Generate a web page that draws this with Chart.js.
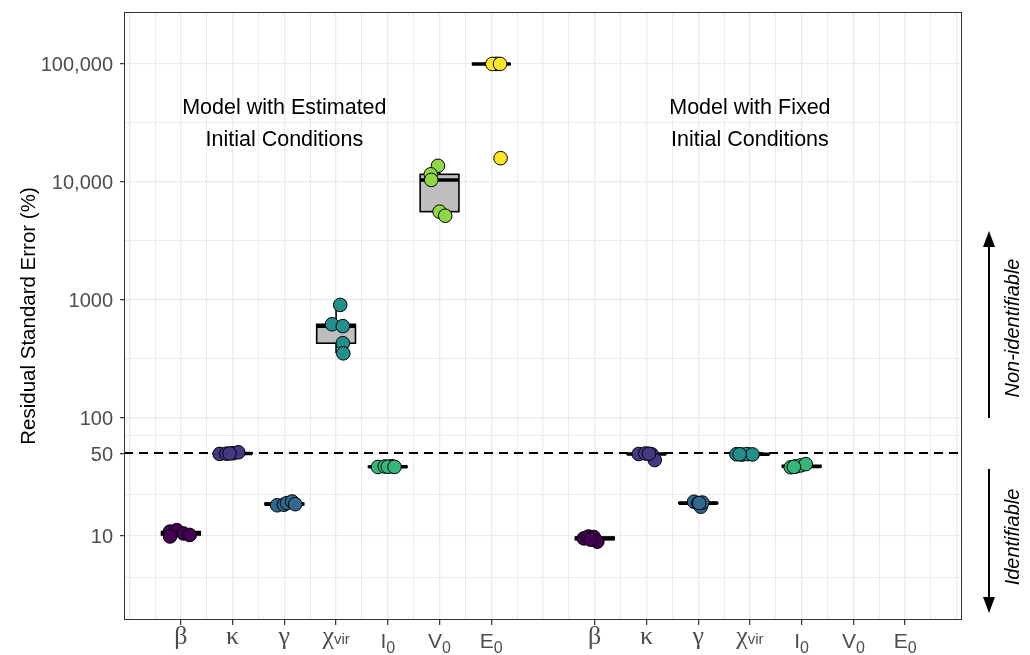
<!DOCTYPE html>
<html>
<head>
<meta charset="utf-8">
<script src="https://cdn.jsdelivr.net/npm/chart.js@4"></script>
<style>
  html, body { margin: 0; padding: 0; background: #ffffff; }
  canvas { display: block; }
</style>
</head>
<body>
<canvas id="rse" width="1030" height="655"></canvas>
<script>
// ---- Parameters and axis labels ----
const paramNames = ['β', 'κ', 'γ', 'χvir', 'I0', 'V0', 'E0'];
const tickMain = ['β', 'κ', 'γ', 'χ', 'I', 'V', 'E'];
const tickSub = ['', '', '', 'vir', '0', '0', '0'];
const tickGreek = [true, true, true, true, false, false, false];
const estPositions = [1, 2, 3, 4, 5, 6, 7];
const fixPositions = [9, 10, 11, 12, 13, 14, 15];
const paramColors = ['#440154', '#443A83', '#31688E', '#21908C', '#35B779', '#8FD744', '#FDE725'];

const yTickValues = [10, 50, 100, 1000, 10000, 100000];
const yTickLabels = ['10', '50', '100', '1000', '10,000', '100,000'];
const thresholdRSE = 50;

// ---- RSE (%) and horizontal jitter, model with estimated initial conditions ----
const estBeta = [10.9, 11.2, 10.5, 10.2, 9.9];
const estBetaJit = [-0.21, -0.08, 0.05, 0.17, -0.21];
const estKappa = [49.6, 49.8, 50.3, 51.2, 50.0];
const estKappaJit = [-0.25, -0.12, 0.01, 0.11, -0.06];
const estGamma = [18.2, 18.4, 19.0, 19.6, 18.6];
const estGammaJit = [-0.14, -0.01, 0.05, 0.15, 0.21];
const estChi = [908, 622, 600, 430, 353];
const estChiJit = [0.08, -0.08, 0.13, 0.13, 0.14];
const estI0 = [38.4, 38.8, 39.0, 38.6, 38.5];
const estI0Jit = [-0.19, -0.06, 0.07, 0.0, 0.13];
const estV0 = [13700, 11600, 10400, 5600, 5170];
const estV0Jit = [-0.03, -0.17, -0.16, 0.0, 0.11];
const estE0 = [100000, 100000, 100000, 100000, 15900];
const estE0Jit = [0.08, 0.12, 0.02, 0.17, 0.18];

// ---- RSE (%) and horizontal jitter, model with fixed initial conditions ----
const fixBeta = [9.55, 9.9, 9.8, 8.95, 9.3];
const fixBetaJit = [-0.21, -0.12, -0.02, 0.05, -0.08];
const fixKappa = [49.5, 50.0, 49.2, 44.0, 49.8];
const fixKappaJit = [-0.15, -0.02, 0.10, 0.16, 0.05];
const fixGamma = [19.5, 18.9, 17.7, 19.2, 19.0];
const fixGammaJit = [-0.08, 0.0, 0.05, 0.08, 0.02];
const fixChi = [49.3, 49.0, 49.4, 49.1, 49.2];
const fixChiJit = [-0.26, -0.15, -0.05, 0.05, -0.2];
const fixI0 = [38.2, 38.8, 39.6, 40.6, 38.5];
const fixI0Jit = [-0.21, -0.12, -0.02, 0.08, -0.15];

const estGroups = [
  [estBeta, estBetaJit], [estKappa, estKappaJit], [estGamma, estGammaJit],
  [estChi, estChiJit], [estI0, estI0Jit], [estV0, estV0Jit], [estE0, estE0Jit]
];
const fixGroups = [
  [fixBeta, fixBetaJit], [fixKappa, fixKappaJit], [fixGamma, fixGammaJit],
  [fixChi, fixChiJit], [fixI0, fixI0Jit], null, null
];

// ---- Box statistics (computed on log10 scale, quantile type 7) ----
function quantile(sorted, p) {
  const h = (sorted.length - 1) * p;
  const lo = Math.floor(h), hi = Math.ceil(h);
  return sorted[lo] + (h - lo) * (sorted[hi] - sorted[lo]);
}
function boxStats(values) {
  const logs = values.map(v => Math.log10(v)).sort((a, b) => a - b);
  const q1 = quantile(logs, 0.25), med = quantile(logs, 0.5), q3 = quantile(logs, 0.75);
  const iqr = q3 - q1;
  const inside = logs.filter(v => v >= q1 - 1.5 * iqr && v <= q3 + 1.5 * iqr);
  return {
    q1: 10 ** q1, med: 10 ** med, q3: 10 ** q3,
    lo: 10 ** Math.min(...inside, q1), hi: 10 ** Math.max(...inside, q3)
  };
}
const boxes = [];
estGroups.forEach((g, i) => { if (g) boxes.push({ pos: estPositions[i], ...boxStats(g[0]) }); });
fixGroups.forEach((g, i) => { if (g) boxes.push({ pos: fixPositions[i], ...boxStats(g[0]) }); });

// ---- Scatter datasets, one per parameter colour ----
const datasets = paramNames.map((name, i) => {
  const pts = [];
  const e = estGroups[i];
  if (e) e[0].forEach((v, k) => pts.push({ x: estPositions[i] + e[1][k], y: v }));
  const f = fixGroups[i];
  if (f) f[0].forEach((v, k) => pts.push({ x: fixPositions[i] + f[1][k], y: v }));
  return {
    label: name, data: pts, backgroundColor: paramColors[i], borderColor: '#000000',
    borderWidth: 1, pointRadius: 6.8, pointHoverRadius: 6.8
  };
});

// ---- Grid positions ----
const xGrid = [];
for (let v = 0; v <= 16; v += 0.5) xGrid.push(v);
const yLogMajor = yTickValues.map(v => Math.log10(v));
const yLogGrid = [yLogMajor[0] - (yLogMajor[1] - yLogMajor[0]) / 2];
yLogMajor.forEach((l, i) => {
  yLogGrid.push(l);
  if (i < yLogMajor.length - 1) yLogGrid.push((l + yLogMajor[i + 1]) / 2);
});
const yGrid = yLogGrid.map(l => 10 ** l);
const isLabelledX = v => estPositions.includes(v) || fixPositions.includes(v);
const isLabelledY = v => yTickValues.some(t => Math.abs(t - v) / t < 1e-6);

const SANS = '"Liberation Sans", Arial, Helvetica, sans-serif';
const SERIF = '"Liberation Serif", "DejaVu Serif", serif';

// Boxes and the 50% threshold line, under the points
const boxPlugin = {
  id: 'boxes',
  beforeDatasetsDraw(chart) {
    const { ctx, chartArea, scales: { x, y } } = chart;
    ctx.save();
    const ty = Math.round(y.getPixelForValue(thresholdRSE));
    ctx.strokeStyle = '#000000';
    ctx.lineWidth = 2;
    ctx.setLineDash([9, 6]);
    ctx.beginPath();
    ctx.moveTo(chartArea.left, ty);
    ctx.lineTo(chartArea.right, ty);
    ctx.stroke();
    ctx.setLineDash([]);
    boxes.forEach(b => {
      const cx = x.getPixelForValue(b.pos);
      const half = x.getPixelForValue(b.pos + 0.375) - cx;
      const y1 = y.getPixelForValue(b.q1), y3 = y.getPixelForValue(b.q3);
      const ym = y.getPixelForValue(b.med);
      ctx.strokeStyle = '#000000';
      ctx.lineWidth = 1.6;
      ctx.beginPath();
      ctx.moveTo(cx, y.getPixelForValue(b.hi)); ctx.lineTo(cx, y3);
      ctx.moveTo(cx, y1); ctx.lineTo(cx, y.getPixelForValue(b.lo));
      ctx.stroke();
      ctx.fillStyle = '#BEBEBE';
      ctx.fillRect(cx - half, y3, 2 * half, y1 - y3);
      ctx.strokeRect(cx - half, y3, 2 * half, y1 - y3);
      ctx.lineWidth = 3.6;
      ctx.beginPath();
      ctx.moveTo(cx - half, ym); ctx.lineTo(cx + half, ym);
      ctx.stroke();
    });
    ctx.restore();
  }
};

// Panel border, x labels with subscripts, and annotations
const decorPlugin = {
  id: 'decor',
  afterDraw(chart) {
    const { ctx, chartArea: a, scales: { x, y } } = chart;
    ctx.save();
    ctx.strokeStyle = '#333333';
    ctx.lineWidth = 1;
    ctx.strokeRect(a.left + 0.5, a.top + 0.5, a.right - a.left - 1, a.bottom - a.top - 1);

    // x tick labels
    ctx.fillStyle = '#4D4D4D';
    ctx.textBaseline = 'alphabetic';
    ctx.textAlign = 'left';
    [estPositions, fixPositions].forEach(posList => {
      posList.forEach((p, i) => {
        const mainFont = tickGreek[i] ? '26px ' + SERIF : '21px ' + SANS;
        const subFont = tickGreek[i] ? '15px ' + SANS : '16px ' + SANS;
        ctx.font = mainFont;
        const wm = ctx.measureText(tickMain[i]).width;
        ctx.font = subFont;
        const ws = tickSub[i] ? ctx.measureText(tickSub[i]).width : 0;
        const left = x.getPixelForValue(p) - (wm + ws) / 2;
        const base = tickGreek[i] ? 644 : 648;
        ctx.font = mainFont;
        ctx.fillText(tickMain[i], left, base);
        if (tickSub[i]) {
          ctx.font = subFont;
          ctx.fillText(tickSub[i], left + wm, tickGreek[i] ? 644 : 653);
        }
      });
    });

    // model annotations
    ctx.fillStyle = '#000000';
    ctx.font = '21.5px ' + SANS;
    ctx.textAlign = 'center';
    ctx.textBaseline = 'middle';
    const ay = y.getPixelForValue(10 ** 4.5);
    const lx = x.getPixelForValue(3), rx = x.getPixelForValue(12);
    ctx.fillText('Model with Estimated', lx, ay - 15);
    ctx.fillText('Initial Conditions', lx, ay + 17);
    ctx.fillText('Model with Fixed', rx, ay - 15);
    ctx.fillText('Initial Conditions', rx, ay + 17);

    // identifiability arrows on the right
    const arX = a.right + 27;
    const arrow = (y0, y1) => {
      const dir = Math.sign(y1 - y0);
      ctx.strokeStyle = '#000000';
      ctx.fillStyle = '#000000';
      ctx.lineWidth = 2;
      ctx.beginPath();
      ctx.moveTo(arX, y0); ctx.lineTo(arX, y1 - dir * 12);
      ctx.stroke();
      ctx.beginPath();
      ctx.moveTo(arX, y1);
      ctx.lineTo(arX - 6, y1 - dir * 16);
      ctx.lineTo(arX + 6, y1 - dir * 16);
      ctx.closePath();
      ctx.fill();
    };
    arrow(a.top + 406, a.top + 219);
    arrow(a.top + 457, a.top + 601);
    ctx.font = 'italic 20px ' + SANS;
    ctx.textAlign = 'center';
    ctx.textBaseline = 'middle';
    [['Non-identifiable', a.top + 316], ['Identifiable', a.top + 525]].forEach(([t, cy]) => {
      ctx.save();
      ctx.translate(a.right + 51, cy);
      ctx.rotate(-Math.PI / 2);
      ctx.fillText(t, 0, 0);
      ctx.restore();
    });
    ctx.restore();
  }
};

new Chart(document.getElementById('rse'), {
  type: 'scatter',
  data: { datasets },
  plugins: [boxPlugin, decorPlugin],
  options: {
    responsive: false,
    animation: false,
    devicePixelRatio: 1,
    layout: { padding: { left: 0, right: 68, top: 12, bottom: 0 } },
    plugins: { legend: { display: false }, tooltip: { enabled: false } },
    scales: {
      x: {
        type: 'linear',
        min: -0.1,
        max: 16.1,
        afterBuildTicks: s => { s.ticks = xGrid.map(v => ({ value: v })); },
        afterFit: s => { s.height = 35; s.paddingLeft = 0; s.paddingRight = 0; },
        ticks: { display: false },
        border: { display: false },
        grid: {
          color: '#EBEBEB',
          lineWidth: c => (c.tick && Number.isInteger(c.tick.value) ? 1.3 : 1),
          tickLength: 5,
          tickWidth: 1.2,
          tickColor: c => (c.tick && isLabelledX(c.tick.value) ? '#333333' : 'rgba(0,0,0,0)')
        }
      },
      y: {
        type: 'logarithmic',
        min: 10 ** 0.288,
        max: 10 ** 5.44,
        afterBuildTicks: s => { s.ticks = yGrid.map(v => ({ value: v })); },
        afterFit: s => { s.width = 124; s.paddingTop = 0; s.paddingBottom = 0; },
        border: { display: false },
        ticks: {
          padding: 7,
          labelOffset: 1.5,
          color: '#4D4D4D',
          font: { family: SANS, size: 20 },
          autoSkip: false,
          callback: v => {
            const i = yTickValues.findIndex(t => Math.abs(t - v) / t < 1e-6);
            return i >= 0 ? yTickLabels[i] : '';
          }
        },
        grid: {
          color: '#EBEBEB',
          lineWidth: c => (c.tick && isLabelledY(c.tick.value) ? 1.3 : 1),
          tickLength: 4,
          tickWidth: 1.2,
          tickColor: c => (c.tick && isLabelledY(c.tick.value) ? '#333333' : 'rgba(0,0,0,0)')
        },
        title: {
          display: true,
          text: 'Residual Standard Error (%)',
          color: '#000000',
          font: { family: SANS, size: 20.5 },
          padding: { top: 17, bottom: 0 }
        }
      }
    }
  }
});
</script>
</body>
</html>
